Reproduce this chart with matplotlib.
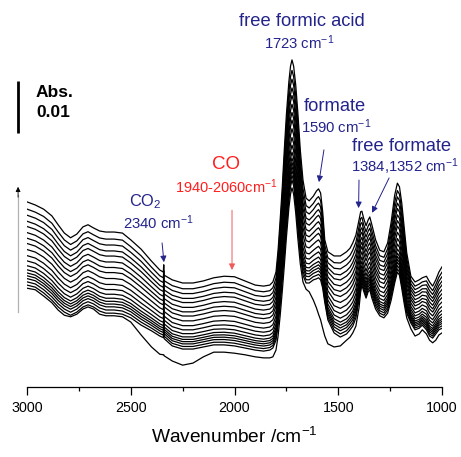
import numpy as np
import matplotlib
matplotlib.use("Agg")
import matplotlib.pyplot as plt
from matplotlib.ticker import MultipleLocator

plt.rcParams["font.family"] = "Liberation Sans"
plt.rcParams["mathtext.fontset"] = "custom"
plt.rcParams["mathtext.rm"] = "Liberation Sans"
plt.rcParams["mathtext.it"] = "Liberation Sans:italic"

wavenumber = [
    3000, 2960, 2920, 2880, 2850, 2820, 2790, 2760, 2730, 2706,
    2680, 2650, 2620, 2580, 2540, 2500, 2450, 2400, 2360, 2343,
    2341, 2339, 2300, 2250, 2200, 2150, 2100, 2050, 2000, 1950,
    1900, 1860, 1830, 1815, 1800, 1790, 1780, 1770, 1760, 1750,
    1738, 1730, 1723, 1715, 1705, 1695, 1683, 1670, 1655, 1640,
    1620, 1605, 1595, 1585, 1575, 1565, 1550, 1520, 1490, 1460,
    1443, 1430, 1415, 1400, 1392, 1386, 1378, 1366, 1356, 1348,
    1338, 1320, 1300, 1280, 1262, 1245, 1228, 1215, 1205, 1194,
    1182, 1170, 1150, 1130, 1110, 1095, 1075, 1060, 1045, 1030,
    1015, 1000,
]

# absorbance in mAbs (arbitrary zero), last scan of the series
last_scan = [
    35.6, 35.0, 34.2, 32.9, 31.2, 29.6, 28.7, 29.4, 30.8, 31.2,
    30.6, 30.0, 29.8, 29.8, 29.6, 28.3, 26.5, 24.2, 22.5, 22.1,
    23.5, 21.5, 20.6, 20.0, 20.0, 20.4, 21.0, 21.3, 21.2, 20.4,
    19.6, 19.4, 19.6, 20.2, 22.1, 26.3, 32.1, 38.3, 45.6, 52.3,
    58.7, 61.7, 62.9, 61.7, 58.1, 52.9, 45.6, 39.8, 36.3, 35.8,
    36.7, 37.7, 38.1, 37.3, 33.7, 28.3, 26.0, 25.2, 25.2, 26.0,
    26.7, 27.7, 29.2, 32.1, 33.7, 33.8, 32.5, 31.0, 32.1, 32.7,
    31.2, 28.3, 26.3, 26.0, 27.7, 31.7, 36.9, 39.2, 38.5, 35.4,
    30.6, 25.8, 21.3, 20.2, 20.6, 21.0, 21.3, 20.2, 19.4, 20.6,
    22.1, 23.1,
]

# second scan (bottom of the bundle)
second_scan = [
    19.6, 19.2, 18.1, 16.7, 15.4, 14.4, 13.8, 14.4, 15.4, 15.8,
    15.4, 14.6, 14.2, 14.2, 14.0, 13.3, 11.9, 10.8, 9.8, 9.5,
    10.5, 9.3, 7.9, 7.3, 7.3, 7.7, 8.1, 8.1, 7.9, 7.5,
    7.1, 6.9, 7.1, 7.5, 9.0, 11.9, 15.8, 20.6, 25.4, 30.6,
    36.0, 38.5, 39.8, 38.7, 35.0, 30.6, 25.4, 21.5, 20.0, 20.0,
    20.6, 20.8, 21.0, 20.6, 19.0, 16.3, 12.9, 10.4, 9.6, 10.2,
    11.0, 11.7, 13.3, 16.7, 19.0, 20.2, 19.0, 17.5, 18.7, 19.2,
    17.7, 15.6, 14.2, 13.8, 14.8, 17.5, 20.6, 22.7, 22.1, 19.6,
    16.7, 14.2, 12.3, 11.0, 11.3, 11.9, 11.0, 9.8, 9.4, 10.2,
    11.0, 11.3,
]

# first scan (no gas-phase CO2 yet)
first_scan = [
    19.0, 18.7, 17.5, 16.2, 14.8, 13.8, 13.5, 14.0, 15.0, 15.4,
    15.0, 14.0, 13.7, 13.7, 13.5, 12.5, 10.0, 7.7, 6.3, 6.2,
    6.2, 6.0, 5.0, 4.2, 4.6, 5.8, 6.7, 6.7, 6.5, 6.2,
    5.8, 5.6, 5.6, 5.8, 7.1, 9.8, 13.7, 18.3, 23.3, 28.7,
    34.4, 37.1, 38.3, 37.1, 33.5, 28.7, 23.7, 20.2, 18.8, 18.3,
    16.7, 15.2, 14.0, 12.9, 11.3, 9.8, 8.3, 7.7, 7.9, 9.0,
    9.6, 10.4, 11.7, 15.2, 18.3, 19.6, 18.5, 17.1, 18.3, 18.7,
    17.1, 15.0, 13.7, 13.3, 14.2, 16.7, 20.0, 22.1, 21.5, 19.0,
    16.0, 13.3, 11.2, 9.8, 10.2, 11.0, 10.2, 9.0, 8.5, 9.0,
    10.0, 10.4,
]

# position of each later scan between the second and the last one
scan_fraction = [
    0.0, 0.039, 0.078, 0.112, 0.146, 0.184, 0.233, 0.291, 0.354,
    0.427, 0.500, 0.563, 0.631, 0.704, 0.767, 0.840, 0.913, 1.0,
]

wn = np.array(wavenumber, dtype=float)
a_last = np.array(last_scan) * 1e-3
a_second = np.array(second_scan) * 1e-3
a_first = np.array(first_scan) * 1e-3

blue = "#23238c"
red = "#ff1e1e"

fig = plt.figure(figsize=(4.61, 4.57), dpi=100)
ax = fig.add_axes([27 / 461, 70 / 457, 415 / 461, 387 / 457])

ax.plot(wn, a_first, color="black", lw=0.9)
for f in scan_fraction:
    ax.plot(wn, a_second + f * (a_last - a_second), color="black", lw=0.9)

ax.set_xlim(3000, 1000)
ax.set_ylim(0, 0.07442)
for s in ["left", "right", "top"]:
    ax.spines[s].set_visible(False)
ax.spines["bottom"].set_linewidth(0.9)
ax.set_yticks([])
ax.xaxis.set_major_locator(MultipleLocator(500))
ax.xaxis.set_minor_locator(MultipleLocator(250))
ax.tick_params(axis="x", which="major", direction="out", length=5.8, width=0.9,
               labelsize=10.3, pad=4)
ax.tick_params(axis="x", which="minor", direction="out", length=3.2, width=0.9)
ax.set_xlabel("Wavenumber /cm$^{-1}$", fontsize=13.8, labelpad=9)

# scale bar and time arrow
ax.plot([3043, 3043], [0.0488, 0.0588], color="black", lw=2.0, clip_on=False,
        solid_capstyle="butt")
ax.text(2957, 0.0567, "Abs.", fontsize=12.5, fontweight="bold", va="center")
ax.text(2957, 0.0527, "0.01", fontsize=12.5, fontweight="bold", va="center")
ax.plot([3043, 3043], [0.0144, 0.0370], color="#b0b0b0", lw=0.9, clip_on=False)
ax.annotate("", xy=(3043, 0.0385), xytext=(3043, 0.0365), annotation_clip=False,
            arrowprops=dict(arrowstyle="-|>", color="black", lw=0.6,
                            mutation_scale=7, shrinkA=0, shrinkB=0))


def arrow(tail, tip, color, lw=0.7):
    ax.annotate("", xy=tip, xytext=tail,
                arrowprops=dict(arrowstyle="-|>", color=color, lw=lw,
                                mutation_scale=9, shrinkA=0, shrinkB=0))


# band labels
ax.text(1675, 0.0702, "free formic acid", color=blue, fontsize=13.2,
        ha="center", va="center")
ax.text(1689, 0.0663, "1723 cm$^{-1}$", color=blue, fontsize=10.7,
        ha="center", va="center")

ax.text(1516, 0.0540, "formate", color=blue, fontsize=13.2, ha="center",
        va="center")
ax.text(1511, 0.0500, "1590 cm$^{-1}$", color=blue, fontsize=10.7,
        ha="center", va="center")
arrow((1569, 0.0456), (1593, 0.0394), blue)

ax.text(1195, 0.0462, "free formate", color=blue, fontsize=13.2, ha="center",
        va="center")
ax.text(1178, 0.0423, "1384,1352 cm$^{-1}$", color=blue, fontsize=10.7,
        ha="center", va="center")
arrow((1400, 0.0398), (1402, 0.0344), blue)
arrow((1255, 0.0402), (1337, 0.0335), blue)

ax.text(2041, 0.0427, "CO", color=red, fontsize=13.5, ha="center",
        va="center")
ax.text(2041, 0.0385, "1940-2060cm$^{-1}$", color=red, fontsize=10.5,
        ha="center", va="center")
arrow((2012, 0.0340), (2012, 0.0225), "#f05a5a", lw=0.7)

ax.text(2431, 0.0356, "CO$_2$", color=blue, fontsize=11.8, ha="center",
        va="center")
ax.text(2369, 0.0315, "2340 cm$^{-1}$", color=blue, fontsize=10.7,
        ha="center", va="center")
arrow((2349, 0.0277), (2340, 0.0240), blue)

fig.savefig("out.png", dpi=100)
